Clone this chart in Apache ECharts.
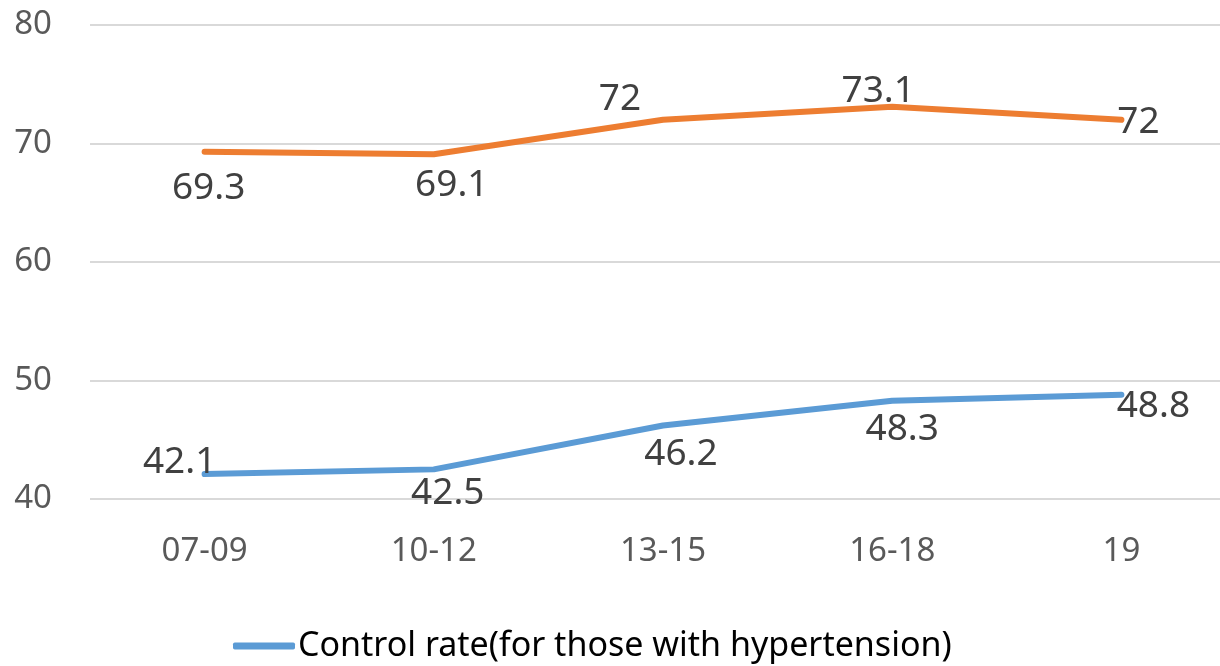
<!DOCTYPE html>
<html>
<head>
<meta charset="utf-8">
<style>
  html, body { margin: 0; padding: 0; background: #fff; overflow: hidden; }
  #chart { width: 1220px; height: 666px; }
</style>
<script src="https://cdn.jsdelivr.net/npm/echarts@6/dist/echarts.min.js"></script>
</head>
<body>
<div id="chart"></div>
<script>
// Survey periods
const periods = ['07-09', '10-12', '13-15', '16-18', '19'];
// Treatment rate (orange) and control rate (blue), %
const treatmentRate = [69.3, 69.1, 72, 73.1, 72];
const controlRate = [42.1, 42.5, 46.2, 48.3, 48.8];
// Y axis range
const yMin = 40, yMax = 80, yStep = 10;

const FONT = '"Noto Sans", "Open Sans", sans-serif';

// label centre offsets from each point, in pixels
const treatmentOffsets = [[4, 37], [18, 31], [-43, -20], [-14, -15], [17, 3]];
const controlOffsets = [[-25, -12], [14, 24], [18, 29], [10, 29], [32, 12]];

function points(values, offsets) {
  return values.map((v, i) => ({
    value: v,
    label: { position: 'inside', offset: offsets[i] }
  }));
}

const valueLabel = {
  show: true,
  fontFamily: FONT,
  fontSize: 37,
  color: '#404040',
  align: 'center',
  verticalAlign: 'middle'
};

const chart = echarts.init(document.getElementById('chart'));
chart.setOption({
  animation: false,
  grid: {
    left: 90, width: 1146, top: 25, height: 474,
    containLabel: false, outerBoundsMode: 'none'
  },
  legend: {
    data: ['Control rate(for those with hypertension)'],
    left: 228,
    top: 624,
    itemWidth: 62,
    itemHeight: 7,
    itemGap: 4,
    icon: 'roundRect',
    textStyle: { fontFamily: FONT, fontSize: 34, color: '#000', padding: [0, 0, 0, -2] }
  },
  xAxis: {
    type: 'category',
    data: periods,
    boundaryGap: true,
    axisLine: { show: false },
    axisTick: { show: false },
    axisLabel: { fontFamily: FONT, fontSize: 33, color: '#595959', margin: 36 }
  },
  yAxis: {
    type: 'value',
    min: yMin,
    max: yMax,
    interval: yStep,
    axisLine: { show: false },
    axisTick: { show: false },
    axisLabel: { fontFamily: FONT, fontSize: 33, color: '#595959', margin: 38 },
    splitLine: { lineStyle: { color: '#d9d9d9', width: 2 } }
  },
  series: [
    {
      name: 'Treatment rate',
      type: 'line',
      data: points(treatmentRate, treatmentOffsets),
      symbol: 'circle',
      symbolSize: 0,
      showSymbol: true,
      lineStyle: { color: '#ED7D31', width: 6, cap: 'round', join: 'round' },
      itemStyle: { color: '#ED7D31' },
      label: valueLabel
    },
    {
      name: 'Control rate(for those with hypertension)',
      type: 'line',
      data: points(controlRate, controlOffsets),
      symbol: 'circle',
      symbolSize: 0,
      showSymbol: true,
      lineStyle: { color: '#5B9BD5', width: 6, cap: 'round', join: 'round' },
      itemStyle: { color: '#5B9BD5' },
      label: valueLabel
    }
  ]
});
</script>
</body>
</html>
